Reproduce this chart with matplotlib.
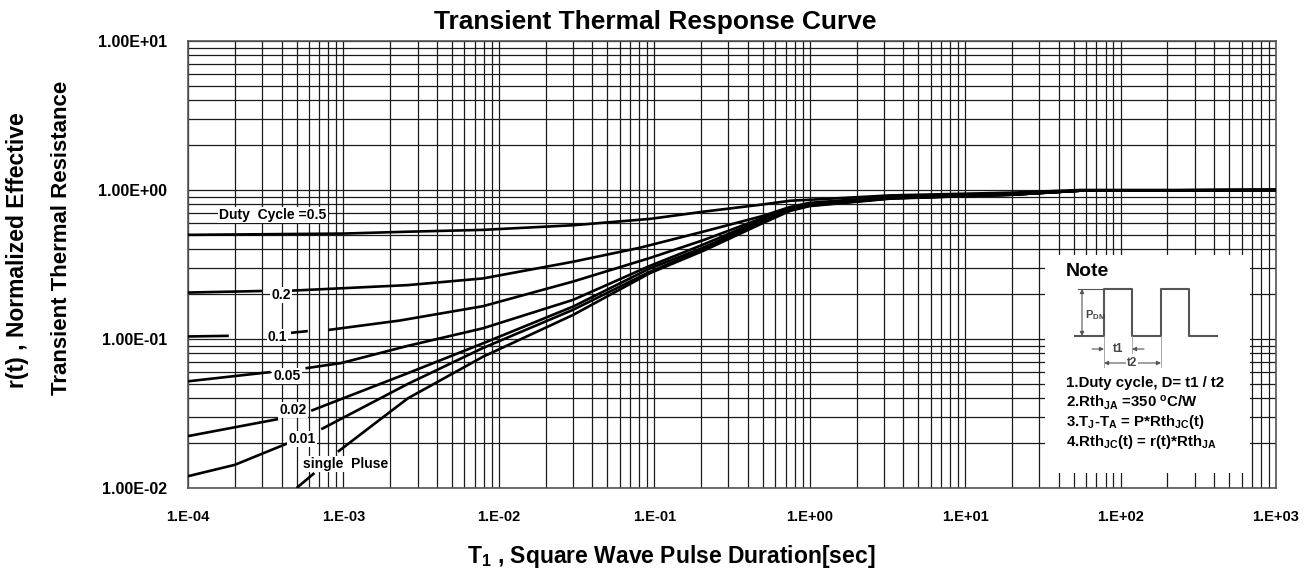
"""
Transient thermal response curve (normalized effective transient thermal resistance).
"""

import numpy as np
import matplotlib

matplotlib.use("Agg")
import matplotlib.pyplot as plt
from matplotlib.ticker import NullFormatter

nan = np.nan

# x tick positions / labels
x_ticks = [1e-4, 1e-3, 1e-2, 1e-1, 1e0, 1e1, 1e2, 1e3]
x_tick_labels = ["1.E-04", "1.E-03", "1.E-02", "1.E-01",
                 "1.E+00", "1.E+01", "1.E+02", "1.E+03"]
y_ticks = [1e-2, 1e-1, 1e0, 1e1]
y_tick_labels = ["1.00E-02", "1.00E-01", "1.00E+00", "1.00E+01"]

# curves (nan = break in the drawn line)
t_05 = [1e-4, 1e-3, 2.6e-3, 7.9e-3, 3.0e-2, 9.4e-2, 0.206, 0.5, 0.75, 1.0, 3.3, 20, 55, 1000]
r_05 = [0.50, 0.51, 0.525, 0.54, 0.58, 0.64, 0.715, 0.80, 0.847, 0.86, 0.92, 0.96, 1.0, 1.0]

t_02 = [1e-4, 3.0e-4, nan, 4.6e-4, 2.6e-3, 7.9e-3, 3.0e-2, 8.1e-2, 0.206, 0.5, 0.75, 1.0, 3.3, 20, 55, 1000]
r_02 = [0.205, 0.21, nan, 0.211, 0.23, 0.255, 0.33, 0.41, 0.525, 0.67, 0.77, 0.82, 0.90, 0.94, 0.99, 1.0]

t_01 = [1e-4, 1.83e-4, nan, 4.6e-4, 5.9e-4, nan, 8.0e-4, 2.3e-3, 7.9e-3, 3.0e-2, 9.4e-2, 0.206, 0.5, 0.75, 1.0, 3.3, 20, 55, 1000]
r_01 = [0.104, 0.105, nan, 0.11, 0.113, nan, 0.115, 0.133, 0.166, 0.243, 0.35, 0.46, 0.65, 0.755, 0.81, 0.89, 0.935, 0.99, 1.0]

t_005 = [1e-4, 3.4e-4, nan, 5.7e-4, 9.7e-4, 2.6e-3, 7.9e-3, 3.0e-2, 9.4e-2, 0.206, 0.5, 0.75, 1.0, 3.3, 20, 55, 1000]
r_005 = [0.052, 0.060, nan, 0.0636, 0.069, 0.090, 0.118, 0.183, 0.31, 0.43, 0.635, 0.75, 0.80, 0.885, 0.93, 0.99, 1.0]

t_002 = [1e-4, 3.8e-4, nan, 6.2e-4, 2.6e-3, 7.9e-3, 3.0e-2, 9.4e-2, 0.206, 0.5, 0.75, 1.0, 3.3, 20, 55, 1000]
r_002 = [0.0223, 0.029, nan, 0.033, 0.059, 0.0935, 0.165, 0.298, 0.41, 0.625, 0.74, 0.79, 0.88, 0.93, 0.99, 1.0]

t_001 = [1e-4, 2.0e-4, 4.4e-4, nan, 7.2e-4, 2.6e-3, 7.9e-3, 3.0e-2, 9.4e-2, 0.206, 0.5, 0.75, 1.0, 3.3, 20, 55, 1000]
r_001 = [0.012, 0.0143, 0.020, nan, 0.0248, 0.05, 0.087, 0.157, 0.283, 0.40, 0.615, 0.735, 0.785, 0.88, 0.93, 0.99, 1.0]

t_single = [5.0e-4, 6.5e-4, nan, 9.2e-4, 2.0e-3, 2.6e-3, 7.9e-3, 3.0e-2, 9.4e-2, 0.206, 0.5, 0.75, 1.0, 3.3, 20, 55, 1000]
r_single = [0.010, 0.0126, nan, 0.0175, 0.0325, 0.040, 0.076, 0.145, 0.277, 0.39, 0.60, 0.725, 0.78, 0.875, 0.93, 0.99, 1.0]

curves = [
    (t_05, r_05),
    (t_02, r_02),
    (t_01, r_01),
    (t_005, r_005),
    (t_002, r_002),
    (t_001, r_001),
    (t_single, r_single),
]

# curve labels: text, (t, r) position
curve_labels = [
    ("Duty  Cycle =0.5", 3.52e-4, 0.68),
    ("0.2", 3.96e-4, 0.197),
    ("0.1", 3.77e-4, 0.103),
    ("0.05", 4.34e-4, 0.0565),
    ("0.02", 4.74e-4, 0.0333),
    ("0.01", 5.42e-4, 0.0213),
    ("single  Pluse", 1.04e-3, 0.0145),
]

note_lines = [
    "1.Duty cycle, D= t1 / t2",
    r"2.Rth$_{JA}$ =350 $^{o}$C/W",
    r"3.T$_{J}$-T$_{A}$ = P*Rth$_{JC}$(t)",
    r"4.Rth$_{JC}$(t) = r(t)*Rth$_{JA}$",
]

plt.rcParams["font.family"] = ["Liberation Sans", "DejaVu Sans"]
plt.rcParams["font.weight"] = "bold"
plt.rcParams["mathtext.fontset"] = "custom"
plt.rcParams["mathtext.rm"] = "Liberation Sans:bold"
plt.rcParams["mathtext.it"] = "Liberation Sans:bold"
plt.rcParams["mathtext.bf"] = "Liberation Sans:bold"
plt.rcParams["mathtext.default"] = "rm"

W, H = 1311, 574
figure = plt.figure(figsize=(W / 100, H / 100), dpi=100)

left, right, top, bottom = 188, 1276, 41, 488
axis = figure.add_axes([left / W, 1 - bottom / H, (right - left) / W, (bottom - top) / H])

axis.set_xscale("log")
axis.set_yscale("log")
axis.set_xlim(1e-4, 1e3)
axis.set_ylim(1e-2, 1e1)

for t_vals, r_vals in curves:
    axis.plot(
        np.array(t_vals, dtype=float),
        np.array(r_vals, dtype=float),
        color="black",
        linewidth=1.9,
        solid_capstyle="butt",
        solid_joinstyle="round",
        zorder=3,
    )

for text, tx, ry in curve_labels:
    axis.text(
        tx, ry, text,
        ha="center", va="center",
        fontsize=10, fontweight="bold",
        bbox=dict(facecolor="white", edgecolor="none", pad=0.8),
        zorder=4,
    )

axis.set_xticks(x_ticks)
axis.set_xticklabels(x_tick_labels)
axis.set_yticks(y_ticks)
axis.set_yticklabels(y_tick_labels)
axis.xaxis.set_minor_formatter(NullFormatter())
axis.yaxis.set_minor_formatter(NullFormatter())
axis.tick_params(axis="both", which="both", length=0)
axis.tick_params(axis="x", pad=16, labelsize=10.5)
axis.tick_params(axis="y", pad=15, labelsize=11.5)

axis.grid(which="both", color="#1a1a1a", linewidth=0.9)
axis.set_axisbelow(True)
for spine in axis.spines.values():
    spine.set_color("#555555")
    spine.set_linewidth(1.2)

figure.text(0.5, 1 - 22 / H, "Transient Thermal Response Curve",
            ha="center", va="center", fontsize=19, fontweight="bold")
figure.text(671 / W, 1 - 556 / H, r"T$_{1}$ , Square Wave Pulse Duration[sec]",
            ha="center", va="center", fontsize=16.5, fontweight="bold")
figure.text(18 / W, 1 - 250 / H, "r(t) , Normalized Effective",
            rotation=90, ha="center", va="center", fontsize=16.5, fontweight="bold")
figure.text(62 / W, 1 - 238 / H, "Transient Thermal Resistance",
            rotation=90, ha="center", va="center", fontsize=16, fontweight="bold")

# note box, drawn in pixel units of the figure
nx0, nx1, ny0, ny1 = 1045, 1250, 255, 473
note = figure.add_axes([nx0 / W, 1 - ny1 / H, (nx1 - nx0) / W, (ny1 - ny0) / H])
note.set_zorder(5)
note.set_facecolor("white")
note.set_xlim(nx0, nx1)
note.set_ylim(ny1, ny0)
note.set_xticks([])
note.set_yticks([])
for spine in note.spines.values():
    spine.set_visible(False)

note.text(1066, 272, "Note", ha="left", va="center", fontsize=14, fontweight="bold")

wave = "#555555"
pulse_x = [1075, 1104, 1104, 1132, 1132, 1161, 1161, 1189, 1189, 1217]
pulse_y = [336, 336, 289, 289, 336, 336, 289, 289, 336, 336]
note.plot(pulse_x, pulse_y, color=wave, linewidth=1.5)
note.plot([1078, 1104], [289, 289], color=wave, linewidth=0.8)
note.plot([1104, 1104], [336, 367], color="#999999", linewidth=0.6)
note.plot([1132, 1132], [336, 353], color="#999999", linewidth=0.6)
note.plot([1161, 1161], [336, 367], color="#999999", linewidth=0.6)
arrow = dict(arrowstyle="<|-|>", color=wave, linewidth=0.8, mutation_scale=6,
             shrinkA=0, shrinkB=0)
note.annotate("", xy=(1082, 289), xytext=(1082, 336), arrowprops=arrow)
note.text(1085, 315, r"P$_{DM}$", ha="left", va="center", fontsize=8, color="#444444")

single = dict(arrowstyle="-|>", color=wave, linewidth=0.8, mutation_scale=6,
              shrinkA=0, shrinkB=0)
note.annotate("", xy=(1104, 349), xytext=(1092, 349), arrowprops=single)
note.annotate("", xy=(1132, 349), xytext=(1144, 349), arrowprops=single)
note.text(1118, 349, "t1", ha="center", va="center", fontsize=8.5, color="#444444")
note.annotate("", xy=(1104, 363), xytext=(1161, 363), arrowprops=arrow)
note.text(1132, 363, "t2", ha="center", va="center", fontsize=8.5, color="#444444",
          bbox=dict(facecolor="white", edgecolor="none", pad=0.5))

for i, line in enumerate(note_lines):
    note.text(1066, 383 + i * 19.7, line, ha="left", va="center",
              fontsize=10.8, fontweight="bold")

figure.savefig("out.png", dpi=100)
